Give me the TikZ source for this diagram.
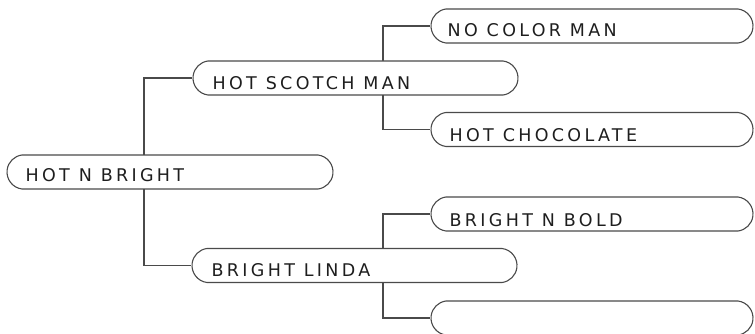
\documentclass[tikz,border=0pt]{standalone}
\usepackage{fontspec}
\setmainfont{DejaVu Sans}[LetterSpace=19]
\usetikzlibrary{shapes.misc,backgrounds}
\definecolor{linec}{HTML}{4A4A4A}
\definecolor{textc}{HTML}{1E1E1E}
\begin{document}
\begin{tikzpicture}[x=1pt,y=-1pt,
  pill/.style={rounded rectangle, rounded rectangle arc length=165, draw=linec, line width=1.1pt, fill=white,
    minimum height=34pt, inner sep=0pt},
  lbl/.style={anchor=base west, inner sep=0pt, text=textc,
    font=\fontsize{17.5}{20}\selectfont},
  conn/.style={draw=linec, line width=1.1pt}]
\useasboundingbox (0,0) rectangle (755,334);
% boxes
\node[pill, minimum width=326pt] (root) at (170,172) {};
\node[pill, minimum width=325pt] (hsm) at (355.5,78) {};
\node[pill, minimum width=325pt] (bl) at (354.5,265.5) {};
\node[pill, minimum width=322pt] (ncm) at (592,26) {};
\node[pill, minimum width=322pt] (hc) at (592,129.5) {};
\node[pill, minimum width=322pt] (bnb) at (592,214) {};
\node[pill, minimum width=322pt] (emp) at (592,318) {};
% junction coordinates
\coordinate (j1) at (144,0);
\coordinate (j2) at (383,0);
% labels
\node[lbl] (troot) at ([xshift=19pt,yshift=-9pt]root.west) {HOT N BRIGHT};
\node[lbl] (thsm) at ([xshift=20pt,yshift=-11.5pt]hsm.west) {HOT SCOTCH MAN};
\node[lbl] (tbl) at ([xshift=20pt,yshift=-11pt]bl.west) {BRIGHT LINDA};
\node[lbl] (tncm) at ([xshift=17pt,yshift=-10.8pt]ncm.west) {NO COLOR MAN};
\node[lbl] (thc) at ([xshift=19pt,yshift=-12pt]hc.west) {HOT CHOCOLATE};
\node[lbl] (tbnb) at ([xshift=19pt,yshift=-12pt]bnb.west) {BRIGHT N BOLD};
% connectors
\begin{scope}[on background layer]
\draw[conn] (hsm.west) -- (hsm.west -| j1) -- (bl.west -| j1) -- (bl.west);
\draw[conn] (ncm.west) -- (ncm.west -| j2) -- (hc.west -| j2) -- (hc.west);
\draw[conn] (bnb.west) -- (bnb.west -| j2) -- (emp.west -| j2) -- (emp.west);
\end{scope}
\end{tikzpicture}
\end{document}
